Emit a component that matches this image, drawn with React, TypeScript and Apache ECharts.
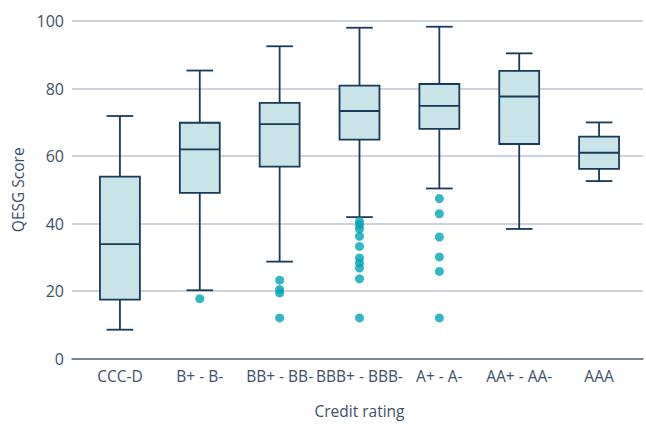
import React, { useEffect, useRef } from "react";
import * as echarts from "echarts";

const categories = ["CCC-D", "B+ - B-", "BB+ - BB-", "BBB+ - BBB-", "A+ - A-", "AA+ - AA-", "AAA"];
const whiskerLow = [8.4, 20.1, 28.6, 41.8, 50.3, 38.3, 52.5];
const q1 = [17.3, 49.0, 56.8, 64.8, 68.0, 63.5, 56.1];
const median = [33.8, 61.9, 69.4, 73.3, 74.8, 77.6, 60.9];
const q3 = [53.8, 69.8, 75.7, 80.8, 81.3, 85.2, 65.7];
const whiskerHigh = [71.8, 85.3, 92.5, 98.0, 98.3, 90.4, 69.9];
const outliers: number[][] = [
  [],
  [17.6],
  [23.1, 20.3, 19.3, 11.9],
  [40.5, 39.5, 38.3, 36.1, 33.1, 29.7, 28.2, 26.7, 23.5, 11.9],
  [47.3, 42.8, 35.9, 30.0, 25.7, 11.9],
  [],
  [],
];
const yTicks = { min: 0, max: 100, interval: 20 };

const TEXT = "#3e5069";
const FONT = "Open Sans";
const EDGE = "#183a5a";
const FILL = "#c8e4e8";

export default function App() {
  const ref = useRef<HTMLDivElement>(null);
  useEffect(() => {
    if (!ref.current) return;
    document.body.style.margin = "0";
    const chart = echarts.init(ref.current, null, { renderer: "svg" });
    const boxData = categories.map((_, i) => [i, whiskerLow[i], q1[i], median[i], q3[i], whiskerHigh[i]]);
    const outlierData: (string | number)[][] = [];
    outliers.forEach((arr, i) => arr.forEach((v) => outlierData.push([categories[i], v])));

    chart.setOption({
      animation: false,
      textStyle: { fontFamily: FONT },
      grid: [
        { left: 80, right: 7, top: 21, bottom: 65.5 },
        { left: 72, right: 3, top: 21, bottom: 65.5 },
      ],
      xAxis: [
        {
          type: "category",
          gridIndex: 0,
          data: categories,
          axisLine: { show: false },
          axisTick: { show: false },
          axisLabel: { color: TEXT, fontSize: 15.5, margin: 10, fontFamily: FONT, interval: 0 },
          name: "Credit rating",
          nameLocation: "middle",
          nameGap: 45,
          nameTextStyle: { color: TEXT, fontSize: 15.5, fontFamily: FONT },
        },
        {
          type: "value",
          gridIndex: 1,
          min: 0,
          max: 1,
          axisLine: { show: true, lineStyle: { color: "#5b6d8b", width: 1.5 } },
          axisTick: { show: false },
          axisLabel: { show: false },
          splitLine: { show: false },
        },
      ],
      yAxis: [
        {
          type: "value",
          gridIndex: 0,
          min: yTicks.min,
          max: yTicks.max,
          interval: yTicks.interval,
          axisLabel: { show: false },
          axisLine: { show: false },
          axisTick: { show: false },
          splitLine: { show: false },
        },
        {
          type: "value",
          gridIndex: 1,
          min: yTicks.min,
          max: yTicks.max,
          interval: yTicks.interval,
          axisLabel: { color: TEXT, fontSize: 16, margin: 8, fontFamily: FONT },
          axisLine: { show: false },
          axisTick: { show: false },
          splitLine: { show: true, lineStyle: { color: "#bdc4d3", width: 1.5 } },
          name: "QESG Score",
          nameLocation: "middle",
          nameGap: 44,
          nameTextStyle: { color: TEXT, fontSize: 15.5, fontFamily: FONT },
        },
      ],
      series: [
        {
          type: "custom",
          xAxisIndex: 0,
          yAxisIndex: 0,
          data: boxData,
          encode: { x: 0, y: [1, 2, 3, 4, 5] },
          renderItem: (params: any, api: any) => {
            const i = api.value(0);
            const band = api.size([1, 0])[0];
            const half = band * 0.25;
            const cap = band / 6;
            const pLow = api.coord([i, api.value(1)]);
            const pQ1 = api.coord([i, api.value(2)]);
            const pMed = api.coord([i, api.value(3)]);
            const pQ3 = api.coord([i, api.value(4)]);
            const pHigh = api.coord([i, api.value(5)]);
            const cx = pMed[0];
            const ls = { stroke: EDGE, lineWidth: 1.8 };
            return {
              type: "group",
              children: [
                { type: "line", shape: { x1: cx, y1: pHigh[1], x2: cx, y2: pQ3[1] }, style: ls },
                { type: "line", shape: { x1: cx, y1: pQ1[1], x2: cx, y2: pLow[1] }, style: ls },
                { type: "line", shape: { x1: cx - cap, y1: pHigh[1], x2: cx + cap, y2: pHigh[1] }, style: ls },
                { type: "line", shape: { x1: cx - cap, y1: pLow[1], x2: cx + cap, y2: pLow[1] }, style: ls },
                {
                  type: "rect",
                  shape: { x: cx - half, y: pQ3[1], width: half * 2, height: pQ1[1] - pQ3[1] },
                  style: { fill: FILL, stroke: EDGE, lineWidth: 1.8 },
                },
                { type: "line", shape: { x1: cx - half, y1: pMed[1], x2: cx + half, y2: pMed[1] }, style: ls },
              ],
            };
          },
        },
        {
          type: "scatter",
          xAxisIndex: 0,
          yAxisIndex: 0,
          data: outlierData,
          symbol: "circle",
          symbolSize: 9,
          itemStyle: { color: "#00a5b5" },
          z: 3,
        },
      ],
    });
    return () => chart.dispose();
  }, []);
  return <div ref={ref} style={{ width: 646, height: 424 }} />;
}
